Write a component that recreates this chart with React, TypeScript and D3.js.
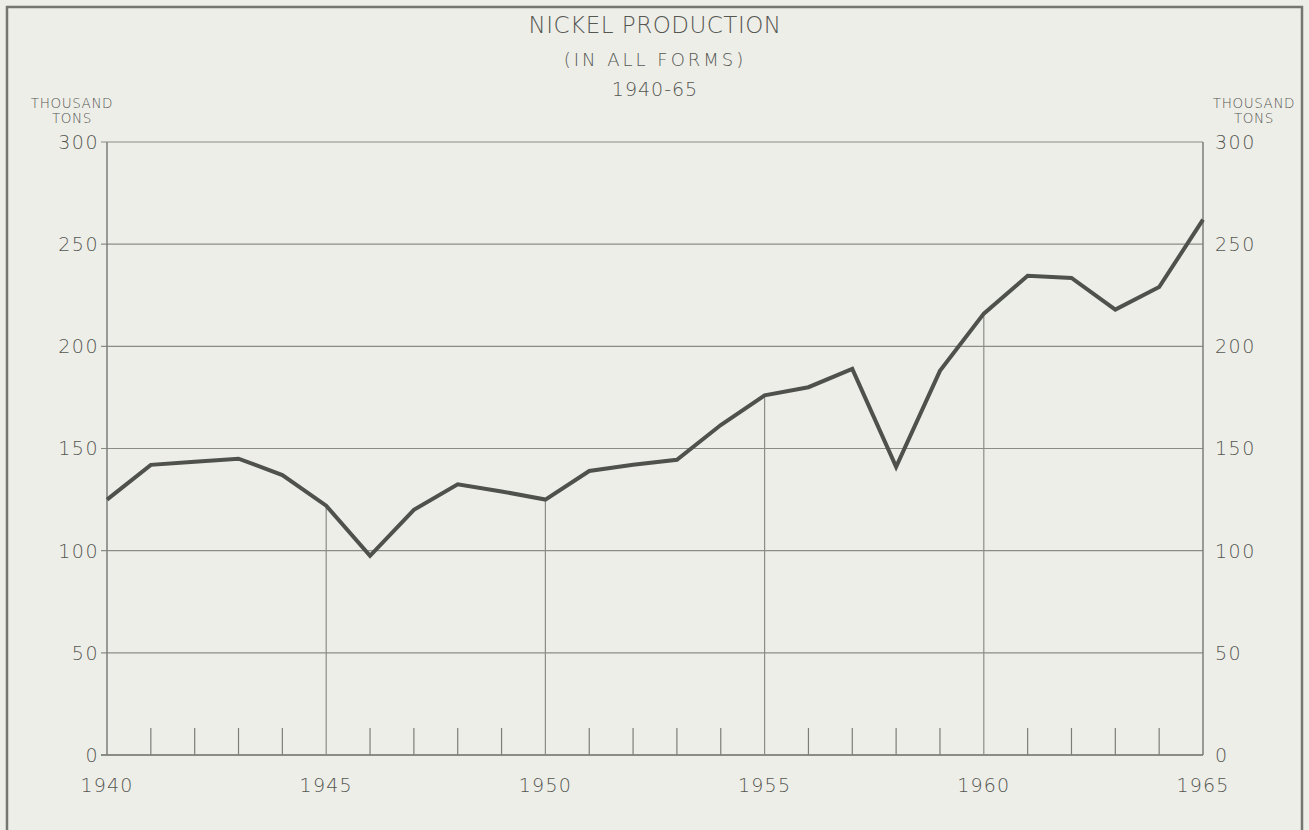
import * as d3 from "d3";
import { useEffect, useRef } from "react";

// years shown on the chart
const years = [
  1940, 1941, 1942, 1943, 1944, 1945, 1946, 1947, 1948, 1949, 1950, 1951, 1952,
  1953, 1954, 1955, 1956, 1957, 1958, 1959, 1960, 1961, 1962, 1963, 1964, 1965,
];
// nickel production, thousand tons
const production = [
  125, 142, 143.5, 145, 137, 122, 97.5, 120, 132.5, 129, 125, 139, 142, 144.5,
  161.5, 176, 180, 189, 141, 188, 216, 234.5, 233.5, 218, 229, 262,
];
const yTicks = [0, 50, 100, 150, 200, 250, 300];
const yearLabels = [1940, 1945, 1950, 1955, 1960, 1965];
const gridYears = [1945, 1950, 1955, 1960];

const W = 1309;
const H = 830;

const App = () => {
  const ref = useRef<SVGSVGElement>(null);

  useEffect(() => {
    const margin = { top: 142, right: 106, bottom: 75, left: 107 },
      width = W - margin.left - margin.right,
      height = H - margin.top - margin.bottom;

    const root = d3.select(ref.current);
    root.selectAll("*").remove();

    const ink = "#555751";
    const font = "'DejaVu Sans', sans-serif";

    // paper + outer frame
    root.append("rect").attr("width", W).attr("height", H).attr("fill", "#eeeee9");
    root
      .append("path")
      .attr("d", `M7,${H + 5}V7H1302V${H + 5}`)
      .attr("fill", "none")
      .attr("stroke", "#74766f")
      .attr("stroke-width", 2.5);

    const svg = root
      .append("g")
      .attr("transform", `translate(${margin.left},${margin.top})`);

    const x = d3.scaleLinear().domain([1940, 1965]).range([0, width]);
    const y = d3.scaleLinear().domain([0, 300]).range([height, 0]);
    const valueAt = (yr: number) => production[years.indexOf(yr)];

    // horizontal grid
    svg
      .selectAll("line.hgrid")
      .data(yTicks)
      .join("line")
      .attr("class", "hgrid")
      .attr("x1", -6)
      .attr("x2", width)
      .attr("y1", (d) => y(d))
      .attr("y2", (d) => y(d))
      .attr("stroke", "#8a8c86")
      .attr("stroke-width", (d) => (d === 0 ? 2 : 1.2));

    // side axes
    svg
      .selectAll("line.side")
      .data([1940, 1965])
      .join("line")
      .attr("class", "side")
      .attr("x1", (d) => x(d))
      .attr("x2", (d) => x(d))
      .attr("y1", y(300))
      .attr("y2", y(0))
      .attr("stroke", "#7c7e78")
      .attr("stroke-width", 1.5);

    // vertical grid only up to the curve
    svg
      .selectAll("line.vgrid")
      .data(gridYears)
      .join("line")
      .attr("class", "vgrid")
      .attr("x1", (d) => x(d))
      .attr("x2", (d) => x(d))
      .attr("y1", y(0))
      .attr("y2", (d) => y(valueAt(d)))
      .attr("stroke", "#8a8c86")
      .attr("stroke-width", 1.2);

    // yearly ticks
    svg
      .selectAll("line.minor")
      .data(years.filter((d) => d % 5 !== 0))
      .join("line")
      .attr("class", "minor")
      .attr("x1", (d) => x(d))
      .attr("x2", (d) => x(d))
      .attr("y1", y(0))
      .attr("y2", y(0) - 27)
      .attr("stroke", "#7c7e78")
      .attr("stroke-width", 1.2);

    // data line
    const line = d3
      .line<number>()
      .x((d, i) => x(years[i]))
      .y((d) => y(d));
    svg
      .append("path")
      .datum(production)
      .attr("d", line)
      .attr("fill", "none")
      .attr("stroke", "#4f524c")
      .attr("stroke-width", 4)
      .attr("stroke-linejoin", "miter");

    // text helper
    const label = (sel: any, size: number, spacing: number) =>
      sel
        .attr("fill", ink)
        .attr("font-family", font)
        .attr("font-size", size)
        .attr("font-weight", 200)
        .attr("letter-spacing", spacing);

    svg
      .selectAll("text.yl")
      .data(yTicks)
      .join("text")
      .attr("class", "yl")
      .attr("x", -8)
      .attr("y", (d) => y(d))
      .attr("dy", "0.36em")
      .attr("text-anchor", "end")
      .text((d) => d)
      .call(label, 19, 1.5);
    svg
      .selectAll("text.yr")
      .data(yTicks)
      .join("text")
      .attr("class", "yr")
      .attr("x", width + 12)
      .attr("y", (d) => y(d))
      .attr("dy", "0.36em")
      .attr("text-anchor", "start")
      .text((d) => d)
      .call(label, 19, 1.5);

    // x labels
    svg
      .selectAll("text.xl")
      .data(yearLabels)
      .join("text")
      .attr("class", "xl")
      .attr("x", (d) => x(d))
      .attr("y", height + 37)
      .attr("text-anchor", "middle")
      .text((d) => d)
      .call(label, 19, 1.2);

    // unit labels
    [72, 1254].forEach((cx) => {
      root
        .append("text")
        .attr("x", cx)
        .attr("y", 108)
        .attr("text-anchor", "middle")
        .text("THOUSAND")
        .call(label, 13.5, 0.6);
      root
        .append("text")
        .attr("x", cx)
        .attr("y", 123)
        .attr("text-anchor", "middle")
        .text("TONS")
        .call(label, 13.5, 0.6);
    });

    // titles
    root
      .append("text")
      .attr("x", 655)
      .attr("y", 33)
      .attr("text-anchor", "middle")
      .text("NICKEL PRODUCTION")
      .call(label, 23, 0.5);
    root
      .append("text")
      .attr("x", 655)
      .attr("y", 66)
      .attr("text-anchor", "middle")
      .text("(IN ALL FORMS)")
      .call(label, 18, 3);
    root
      .append("text")
      .attr("x", 655)
      .attr("y", 96)
      .attr("text-anchor", "middle")
      .text("1940-65")
      .call(label, 19, 1);
  }, []);

  return (
    <svg
      ref={ref}
      width={W}
      height={H}
      style={{ position: "absolute", left: 0, top: 0, display: "block" }}
    />
  );
};

export default App;
